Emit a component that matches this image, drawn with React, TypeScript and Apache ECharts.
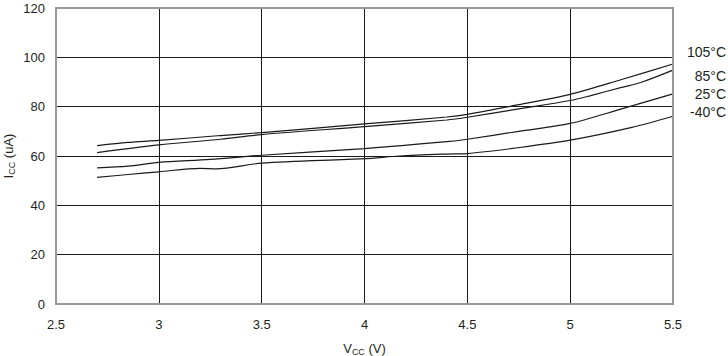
import React, { useEffect, useRef } from "react";
import * as echarts from "echarts";

const xTicks = [2.5, 3, 3.5, 4, 4.5, 5, 5.5];
const yTicks = [0, 20, 40, 60, 80, 100, 120];

const seriesNames = ["105°C", "85°C", "25°C", "-40°C"];

const vcc105 = [2.7, 2.85, 3.0, 3.3, 3.5, 4.0, 4.4, 4.5, 4.75, 5.0, 5.25, 5.5];
const icc105 = [64.2, 65.5, 66.3, 68.3, 69.5, 73.0, 75.8, 76.9, 80.8, 85.0, 91.0, 97.3];

const vcc85 = [2.7, 3.0, 3.3, 3.5, 4.0, 4.4, 4.5, 4.75, 5.0, 5.1, 5.25, 5.35, 5.5];
const icc85 = [61.4, 64.5, 66.8, 68.7, 71.9, 74.6, 75.7, 79.1, 82.5, 84.5, 87.8, 90.0, 94.8];

const vcc25 = [2.7, 2.85, 3.0, 3.25, 3.5, 4.0, 4.4, 4.5, 4.75, 5.0, 5.25, 5.5];
const icc25 = [55.2, 55.9, 57.4, 58.6, 60.3, 63.0, 65.8, 66.8, 70.0, 73.2, 79.1, 85.2];

const vccM40 = [2.7, 2.85, 3.0, 3.2, 3.28, 3.5, 4.0, 4.17, 4.4, 4.5, 4.75, 5.0, 5.3, 5.5];
const iccM40 = [51.3, 52.5, 53.6, 55.0, 54.8, 57.1, 58.9, 60.0, 60.8, 61.0, 63.4, 66.4, 71.6, 76.1];

const xs = [vcc105, vcc85, vcc25, vccM40];
const ys = [icc105, icc85, icc25, iccM40];

const FONT = "'Liberation Sans', Arial, sans-serif";
const TXT = "#231f20";

export default function App() {
  const ref = useRef<HTMLDivElement>(null);
  useEffect(() => {
    if (!ref.current) return;
    const chart = echarts.init(ref.current, undefined, { renderer: "svg" });
    const labelYs = [53, 77, 95, 113];
    chart.setOption({
      animation: false,
      backgroundColor: "#fff",
      grid: {
        left: 56,
        right: 55,
        top: 8,
        bottom: 52,
        containLabel: false,
        outerBoundsMode: "none",
        show: true,
        borderColor: "#9a9a9a",
        borderWidth: 2,
        z: 10,
      },
      xAxis: {
        type: "value",
        min: 2.5,
        max: 5.5,
        interval: 0.5,
        name: "{a|V}{s|CC}{a| (V)}",
        nameLocation: "middle",
        nameGap: 37,
        nameTextStyle: {
          rich: {
            a: { fontFamily: FONT, fontSize: 13, color: TXT },
            s: { fontFamily: FONT, fontSize: 9, color: TXT, verticalAlign: "bottom", padding: [6, 0, 0, 0] },
          },
        },
        axisLine: { show: true, lineStyle: { color: "#333", width: 1.5 }, onZero: false },
        axisTick: { show: false },
        axisLabel: {
          fontFamily: FONT,
          fontSize: 13,
          color: TXT,
          margin: 14,
          formatter: (v: number) => (xTicks.includes(v) ? String(v) : ""),
        },
        splitLine: { show: true, lineStyle: { color: "#1a1a1a", width: 1 } },
      },
      yAxis: {
        type: "value",
        min: 0,
        max: 120,
        interval: 20,
        name: "{a|I}{s|CC}{a| (uA)}",
        nameLocation: "middle",
        nameGap: 40,
        nameMoveOverlap: false,
        nameTextStyle: {
          rich: {
            a: { fontFamily: FONT, fontSize: 13, color: TXT },
            s: { fontFamily: FONT, fontSize: 9, color: TXT, verticalAlign: "bottom", padding: [6, 0, 0, 0] },
          },
        },
        axisLine: { show: true, lineStyle: { color: "#555", width: 1.5 } },
        axisTick: { show: false },
        axisLabel: {
          fontFamily: FONT,
          fontSize: 13,
          color: TXT,
          margin: 11,
          formatter: (v: number) => (yTicks.includes(v) ? String(v) : ""),
        },
        splitLine: { show: true, lineStyle: { color: "#1a1a1a", width: 1 } },
      },
      series: seriesNames.map((name, i) => ({
        name,
        type: "line",
        data: xs[i].map((x, j) => [x, ys[i][j]]),
        showSymbol: false,
        symbol: "none",
        smooth: 0.3,
        lineStyle: { color: "#1a1a1a", width: 1.2 },
        z: 5,
      })),
      graphic: seriesNames.map((name, i) => ({
        type: "text",
        right: 2,
        top: labelYs[i] - 8,
        style: { text: name, fontFamily: FONT, fontSize: 14, fill: TXT },
      })),
    });
    return () => chart.dispose();
  }, []);
  return (
    <div
      ref={ref}
      style={{ position: "fixed", left: 0, top: 0, width: 728, height: 356 }}
    />
  );
}
